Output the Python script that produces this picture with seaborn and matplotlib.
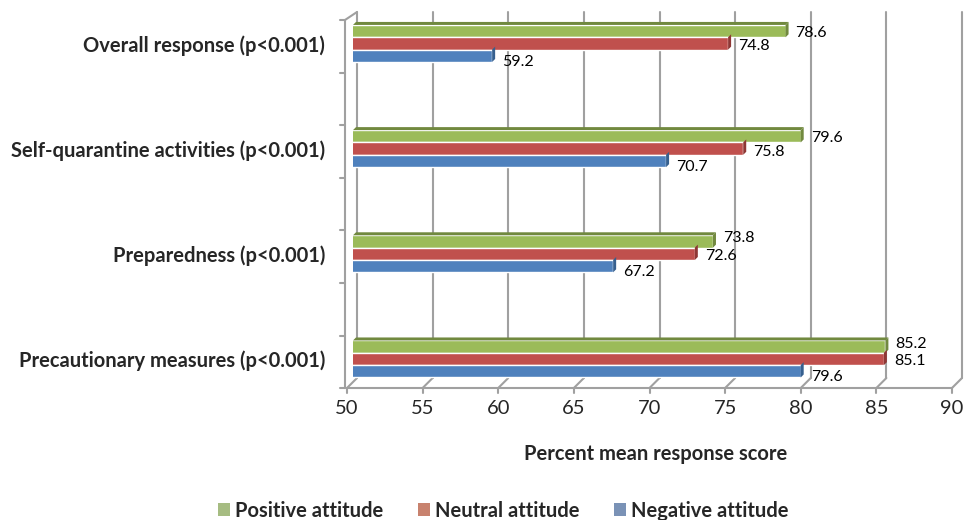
import pandas as pd
import matplotlib
matplotlib.use("Agg")
import matplotlib.pyplot as plt
import seaborn as sns
from matplotlib.patches import Patch, Polygon
from matplotlib.lines import Line2D
from matplotlib.transforms import IdentityTransform, ScaledTranslation

# data
categories = ["Overall response (p<0.001)", "Self-quarantine activities (p<0.001)",
              "Preparedness (p<0.001)", "Precautionary measures (p<0.001)"]
attitudes = ["Positive attitude", "Neutral attitude", "Negative attitude"]
positive = [78.6, 79.6, 73.8, 85.2]
neutral = [74.8, 75.8, 72.6, 85.1]
negative = [59.2, 70.7, 67.2, 79.6]
x_ticks = [50, 55, 60, 65, 70, 75, 80, 85, 90]

colors = ["#9BBB59", "#C0504D", "#4F81BD"]
dark_colors = ["#71893F", "#8E3735", "#36608F"]
legend_colors = ["#A6BC82", "#C8826E", "#7A92B6"]
grid_col = "#A0A0A0"

df = pd.DataFrame({
    "category": categories * 3,
    "attitude": [a for a in attitudes for _ in categories],
    "score": positive + neutral + negative,
})

sns.set_theme(style="white")
plt.rcParams["font.family"] = ["Lato", "DejaVu Sans"]

fig = plt.figure(figsize=(9.64, 5.2), dpi=100)
# axes: 50 -> x=353px, 90 -> x=958px, top y=12px, bottom y=388px
ax = fig.add_axes([353 / 964, 132 / 520, 605 / 964, 376 / 520])

sns.barplot(data=df, x="score", y="category", hue="attitude", order=categories,
            hue_order=attitudes, palette=colors, width=0.352, orient="h",
            saturation=1, ax=ax, legend=False, zorder=3)

ax.set_xlim(50, 90)
ax.set_ylim(3.276, -0.299)
ax.set_xticks(x_ticks)
ax.set_xticklabels([str(t) for t in x_ticks], fontsize=14.5)
ax.tick_params(axis="x", length=0, pad=9)
shift = ScaledTranslation(-6 / 100, 0, fig.dpi_scale_trans)
for lab in ax.get_xticklabels():
    lab.set_transform(lab.get_transform() + shift)

ax.set_yticks(range(len(categories)))
ax.set_yticklabels(categories, fontsize=14.5, fontweight="bold")
ax.tick_params(axis="y", length=0, pad=20)

ax.set_xlabel("Percent mean response score", fontsize=14.5, fontweight="bold", labelpad=19)
ax.set_ylabel("")
for s in ax.spines.values():
    s.set_visible(False)

# 3D-like frame: back wall gridlines, floor and left wall
idt = IdentityTransform()


def seg(p, q, **kw):
    ax.add_line(Line2D([p[0], q[0]], [p[1], q[1]], transform=idt, clip_on=False,
                       color=grid_col, linewidth=1.5, zorder=1, **kw))


xa = ax.get_xaxis_transform()
ya = ax.get_yaxis_transform()
x0, ybot = xa.transform((50, 0))
_, ytop = xa.transform((50, 1))
for t in x_ticks:
    xd, _ = xa.transform((t, 0))
    fx, bx = xd - 6, xd + 4
    seg((fx, ybot - 5), (fx, ybot))
    seg((fx, ybot), (bx, ybot + 10))
    seg((bx, ybot + 10), (bx, ytop))
# front floor edge
seg((x0 - 6, ybot), (xa.transform((90, 0))[0] - 6, ybot))
# left front axis with ticks every half category
lx = x0 - 8
_, y_first = ya.transform((0, -0.223))
seg((lx, ybot), (lx, y_first))
seg((lx, y_first), (x0 + 4, ytop))
for k in range(8):
    _, yk = ya.transform((0, -0.223 + 0.5 * k))
    seg((lx - 5, yk), (lx, yk))

# bar end caps, top face and value labels
series = [positive, neutral, negative]
y_shift = [-2, -3, -6]
for i, (cont, dy) in enumerate(zip(ax.containers, y_shift)):
    for j, bar in enumerate(cont):
        w = bar.get_width()
        yb = bar.get_y() + bar.get_height()
        yt = bar.get_y()
        (ex, py0), (_, py1) = ax.transData.transform([(w, yb), (w, yt)])
        cap = Polygon([(ex, py0), (ex, py1), (ex + 3, py1 + 3), (ex + 3, py0 + 3)],
                      closed=True, transform=idt, facecolor=dark_colors[i],
                      edgecolor="none", zorder=4, clip_on=False)
        ax.add_patch(cap)
        if i == 0:
            sx, _ = ax.transData.transform((50, yt))
            top = Polygon([(sx, py1), (ex, py1), (ex + 3, py1 + 3), (sx + 3, py1 + 3)],
                          closed=True, transform=idt, facecolor=dark_colors[i],
                          edgecolor="none", zorder=4, clip_on=False)
            ax.add_patch(top)
        d = dy
        # spread labels whose neighbours sit at nearly the same x
        if i == 0 and abs(series[0][j] - series[1][j]) < 2.5:
            d += 5
        if i == 1 and abs(series[0][j] - series[1][j]) < 2.5:
            d += 1
        ax.annotate(f"{w:.1f}", (w, bar.get_y() + bar.get_height() / 2),
                    xytext=(10, d), textcoords="offset pixels",
                    ha="left", va="center", fontsize=11.5, color="#000000", zorder=5)

handles = [Patch(facecolor=c, edgecolor="none") for c in legend_colors]
fig.legend(handles, attitudes, loc="center", bbox_to_anchor=(0.522, 0.018), ncol=3,
           frameon=False, prop={"weight": "bold", "size": 14.5}, handlelength=0.6,
           handleheight=0.6, columnspacing=1.7, handletextpad=0.25)

fig.savefig("out.png", dpi=100)
